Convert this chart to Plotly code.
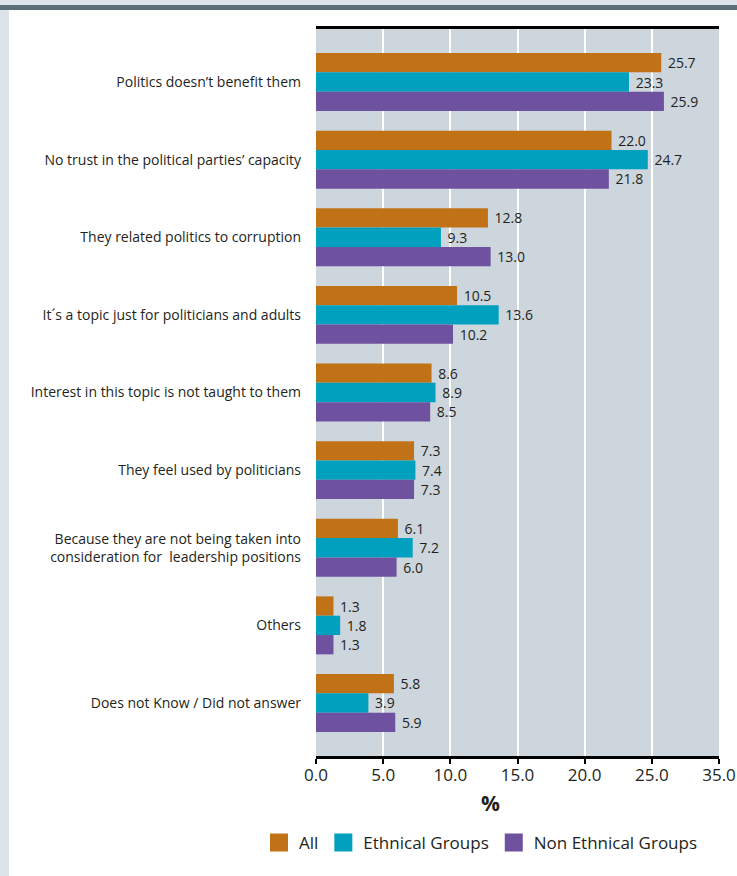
import plotly.graph_objects as go

categories = [
    "Politics doesn’t benefit them",
    "No trust in the political parties’ capacity",
    "They related politics to corruption",
    "It´s a topic just for politicians and adults",
    "Interest in this topic is not taught to them",
    "They feel used by politicians",
    "Because they are not being taken into<br>consideration for \u00a0leadership positions",
    "Others",
    "Does not Know / Did not answer",
]
all_vals = [25.7, 22.0, 12.8, 10.5, 8.6, 7.3, 6.1, 1.3, 5.8]
ethnical_vals = [23.3, 24.7, 9.3, 13.6, 8.9, 7.4, 7.2, 1.8, 3.9]
non_ethnical_vals = [25.9, 21.8, 13.0, 10.2, 8.5, 7.3, 6.0, 1.3, 5.9]
series_names = ["All", "Ethnical Groups", "Non Ethnical Groups"]
tick_vals = [0, 5, 10, 15, 20, 25, 30]
tick_text = ["0.0", "5.0", "10.0", "15.0", "20.0", "25.0", "35.0"]

colors = ["#c27216", "#00a0be", "#6e52a0"]
FONT = "Open Sans"
TXT = "#231f20"

W, H = 737, 876
L, R, T, B = 316, 18, 29, 120
pw, ph = W - L - R, H - T - B


def px_x(p):
    return (p - L) / pw


def px_y(p):
    return (H - B - p) / ph


fig = go.Figure()
for name, vals, col in zip(series_names, [all_vals, ethnical_vals, non_ethnical_vals], colors):
    fig.add_trace(go.Bar(
        y=categories, x=vals, orientation="h", name=name,
        marker=dict(color=col, line=dict(width=0)),
        texttemplate="\u00a0%{x:.1f}", textposition="outside",
        textfont=dict(family=FONT, size=14, color=TXT),
        cliponaxis=False, showlegend=False, hoverinfo="skip",
    ))
    fig.add_trace(go.Scatter(
        x=[None], y=[None], mode="markers", name=name,
        marker=dict(symbol="square", size=16, color=col, line=dict(width=2, color=col)),
        showlegend=True, hoverinfo="skip",
    ))

shapes = [
    dict(type="rect", xref="paper", yref="paper", x0=px_x(0), x1=px_x(9),
         y0=px_y(H), y1=px_y(0), fillcolor="#dce3ea", line=dict(width=0), layer="below"),
    dict(type="rect", xref="paper", yref="paper", x0=px_x(0), x1=px_x(W),
         y0=px_y(5), y1=px_y(0), fillcolor="#dce3ea", line=dict(width=0), layer="below"),
    dict(type="rect", xref="paper", yref="paper", x0=px_x(0), x1=px_x(W),
         y0=px_y(10), y1=px_y(5), fillcolor="#5c6f79", line=dict(width=0), layer="below"),
]

fig.update_layout(
    width=W, height=H,
    margin=dict(l=L, r=R, t=T, b=B, pad=0, autoexpand=False),
    paper_bgcolor="white", plot_bgcolor="#cdd5dd",
    barmode="group", bargap=0.253, bargroupgap=0,
    font=dict(family=FONT, color=TXT),
    shapes=shapes,
    showlegend=True,
    legend=dict(orientation="h", x=px_x(259), xanchor="left", y=px_y(843), yanchor="middle",
                font=dict(family=FONT, size=17, color=TXT), bgcolor="rgba(0,0,0,0)",
                itemclick=False),
    annotations=[dict(text="<b>%</b>", xref="paper", yref="paper", x=px_x(490), y=px_y(803),
                      showarrow=False, font=dict(family=FONT, size=21, color=TXT),
                      xanchor="center", yanchor="middle")],
)
fig.update_xaxes(
    range=[0, 30], tickvals=tick_vals, ticktext=tick_text, automargin=False,
    showgrid=True, gridcolor="white", gridwidth=2,
    showline=True, linecolor="black", linewidth=3, mirror=True,
    ticks="outside", ticklen=5, tickwidth=2, tickcolor="black",
    ticklabelstandoff=-3,
    tickfont=dict(family=FONT, size=17, color=TXT), zeroline=False,
)
fig.update_yaxes(
    range=[8.683, -0.683], showgrid=False, zeroline=False, showline=False,
    ticks="", ticklabelstandoff=14, automargin=False,
    tickfont=dict(family=FONT, size=14, color=TXT),
)

fig.write_html(
    "out.html",
    config={"displayModeBar": False},
    post_script="document.body.style.margin='0';document.body.style.overflow='hidden';",
)
